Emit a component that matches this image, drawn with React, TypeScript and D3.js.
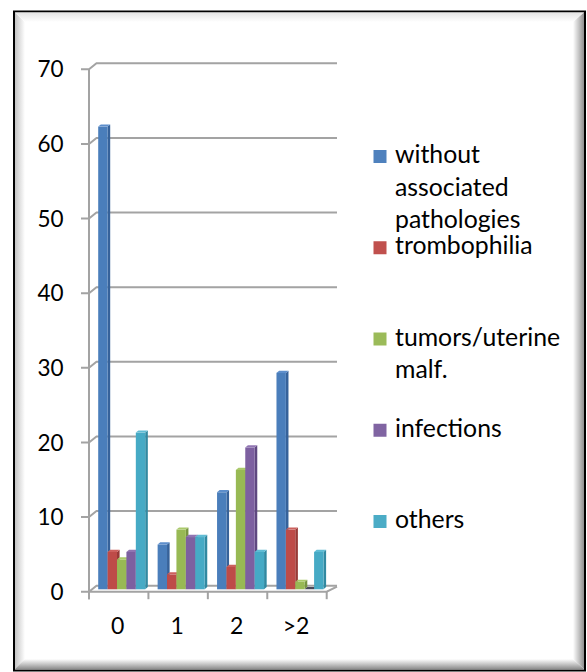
import React from "react";
import * as d3 from "d3";

const categories = ["0", "1", "2", ">2"];
const seriesNames = [
  "without associated pathologies",
  "trombophilia",
  "tumors/uterine malf.",
  "infections",
  "others",
];
const legendLines = [
  ["without", "associated", "pathologies"],
  ["trombophilia"],
  ["tumors/uterine", "malf."],
  ["infections"],
  ["others"],
];
const withoutAssociated = [62, 6, 13, 29];
const trombophilia = [5, 2, 3, 8];
const tumors = [4, 8, 16, 1];
const infections = [5, 7, 19, 0];
const others = [21, 7, 5, 5];
const seriesValues = [withoutAssociated, trombophilia, tumors, infections, others];
const yTicks = [0, 10, 20, 30, 40, 50, 60, 70];

const frontColors = ["#4a7ebb", "#be4b48", "#98b954", "#7d60a0", "#46aac5"];
const sideColors = ["#36629a", "#973936", "#779440", "#5f4880", "#3189a1"];
const topColors = ["#5d8ecb", "#cc605d", "#aac96a", "#9075b2", "#60bcd4"];
const legendColors = ["#4F81BD", "#C0504D", "#9BBB59", "#8064A2", "#4BACC6"];

const W = 587;
const H = 672;
const FONT = "Lato, 'Noto Sans', sans-serif";

export default function App() {
  const axisX = 89;
  const y = d3.scaleLinear().domain([0, 70]).range([591.7, 69.3]);
  const x = d3.scaleBand<string>().domain(categories).range([axisX, 326.7]).paddingInner(0).paddingOuter(0);
  const bw = x.bandwidth();
  const inner = d3
    .scaleBand<number>()
    .domain(d3.range(seriesNames.length))
    .range([6.2, bw - 6.2])
    .padding(0);
  const barW = inner.bandwidth();
  const DX = 7.5;
  const DY = 6;
  const backRight = 337;
  const bOffX = 3;
  const bOffY = 2.4;
  const bdx = 2.6;
  const bdy = 2.2;
  const gridColor = "#a3a3a3";

  const legendY = d3.scaleLinear().domain([0, 4]).range([163, 528]);
  const lineH = 32.5;

  const bars: React.ReactNode[] = [];
  categories.forEach((c, ci) => {
    seriesValues.forEach((vals, si) => {
      const v = vals[ci];
      const x0 = (x(c) as number) + (inner(si) as number) + bOffX;
      const x1 = x0 + barW;
      const yTop = y(v) - bOffY;
      const yBot = y(0) - bOffY;
      bars.push(
        <g key={`${ci}-${si}`}>
          {v > 0 && (
            <polygon
              points={`${x1},${yTop} ${x1 + bdx},${yTop - bdy} ${x1 + bdx},${yBot - bdy} ${x1},${yBot}`}
              fill={sideColors[si]}
            />
          )}
          {v > 0 && <rect x={x0} y={yTop} width={barW} height={yBot - yTop} fill={frontColors[si]} />}
          <polygon
            points={`${x0},${yTop} ${x0 + bdx},${yTop - bdy} ${x1 + bdx},${yTop - bdy} ${x1},${yTop}`}
            fill={v > 0 ? topColors[si] : "#4a4a5a"}
          />
        </g>
      );
    });
  });

  return (
    <svg
      width={W}
      height={H}
      style={{ position: "absolute", left: 0, top: 0, background: "#fff" }}
      fontFamily={FONT}
    >
      <defs>
        <linearGradient id="gl" x1="0" x2="1" y1="0" y2="0">
          <stop offset="0" stopColor="#c4c4c4" />
          <stop offset="1" stopColor="#ffffff" />
        </linearGradient>
        <linearGradient id="gt" x1="0" x2="0" y1="0" y2="1">
          <stop offset="0" stopColor="#e4e4e4" />
          <stop offset="1" stopColor="#ffffff" />
        </linearGradient>
        <linearGradient id="gr" x1="0" x2="1" y1="0" y2="0">
          <stop offset="0" stopColor="#ffffff" />
          <stop offset="0.5" stopColor="#c8c8c8" />
          <stop offset="1" stopColor="#8e8e8e" />
        </linearGradient>
        <linearGradient id="gb" x1="0" x2="0" y1="0" y2="1">
          <stop offset="0" stopColor="#ffffff" />
          <stop offset="0.5" stopColor="#c8c8c8" />
          <stop offset="1" stopColor="#8e8e8e" />
        </linearGradient>
      </defs>
      {/* frame */}
      <rect x={14} y={11.5} width={571} height={659} fill="#fff" stroke="#000" strokeWidth={2} />
      <polygon points="15,12.5 25,22 25,660 15,669" fill="url(#gl)" />
      <polygon points="15,12.5 584,12.5 573,22 25,22" fill="url(#gt)" />
      <polygon points="584,12.5 584,669 573,659 573,22" fill="url(#gr)" />
      <polygon points="15,669 25,659 573,659 584,669" fill="url(#gb)" />

      {/* gridlines + ticks */}
      {yTicks.map((t) => (
        <g key={t}>
          <polyline
            points={`${axisX - 8},${y(t)} ${axisX},${y(t)} ${axisX + DX},${y(t) - DY} ${backRight},${y(t) - DY}`}
            fill="none"
            stroke={gridColor}
            strokeWidth={2}
          />
          <text x={63.5} y={y(t)} dy="0.36em" textAnchor="end" fontSize={22.5} fill="#000">
            {t}
          </text>
        </g>
      ))}
      {/* floor front edge */}
      <polyline
        points={`${axisX},${y(0)} ${x.range()[1]},${y(0)} ${backRight},${y(0) - DY + 1}`}
        fill="none"
        stroke={gridColor}
        strokeWidth={2}
      />
      {/* y axis */}
      <line x1={axisX} x2={axisX} y1={y(70)} y2={y(0) + 7.5} stroke={gridColor} strokeWidth={2} />
      {/* category ticks */}
      {categories.concat(["end"]).map((c, i) => {
        const xx = i < categories.length ? (x(c) as number) : x.range()[1];
        return <line key={i} x1={xx} x2={xx} y1={y(0)} y2={y(0) + 7.5} stroke={gridColor} strokeWidth={2} />;
      })}

      {bars}

      {categories.map((c) => (
        <text key={c} x={(x(c) as number) + bw / 2 - 1} y={626} dy="0.36em" textAnchor="middle" fontSize={23} fill="#000">
          {c}
        </text>
      ))}

      {/* legend */}
      {legendLines.map((lines, i) => (
        <g key={i}>
          <rect x={373.5} y={legendY(i) - 13} width={13} height={13} fill={legendColors[i]} />
          {lines.map((ln, j) => (
            <text key={j} x={395} y={legendY(i) + j * lineH} fontSize={24.8} fill="#000">
              {ln}
            </text>
          ))}
        </g>
      ))}
    </svg>
  );
}
